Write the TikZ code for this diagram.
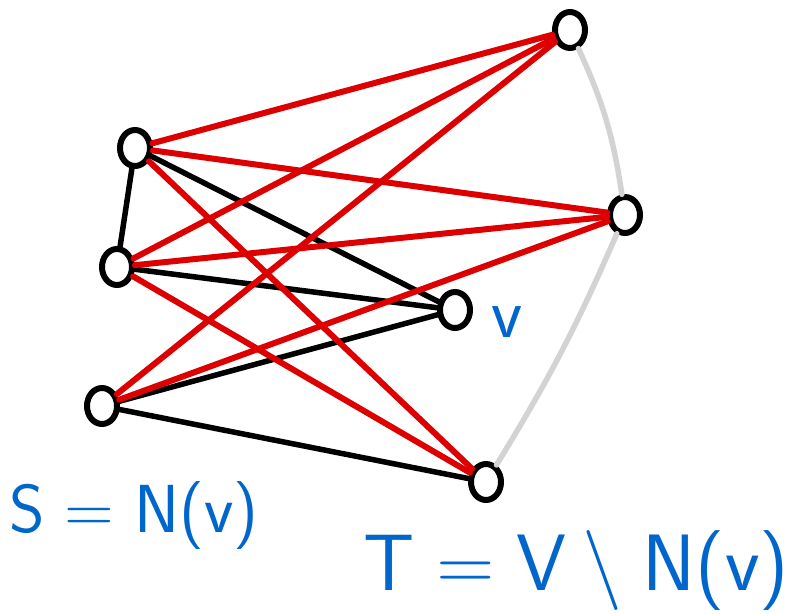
\documentclass[tikz,border=0pt]{standalone}
\usepackage{fontspec}
\usepackage{tikz}
\usetikzlibrary{shapes.geometric}
\definecolor{penred}{HTML}{DD0000}
\definecolor{penblue}{HTML}{0066CC}
\definecolor{pengray}{HTML}{D3D3D3}
\tikzset{
  vtx/.style={ellipse,draw=black,line width=6pt,minimum width=30pt,minimum height=36pt,inner sep=0pt},
  redge/.style={penred,line width=6pt,line cap=round},
  bedge/.style={black,line width=5.5pt,line cap=round},
  gedge/.style={pengray,line width=5.5pt,line cap=round},
  lbl/.style={text=penblue,inner sep=0pt}
}
\begin{document}
\begin{tikzpicture}[x=1pt,y=1pt]
\useasboundingbox (0,0) rectangle (808,-613);
\node[vtx] (L1) at (135,-148) {};
\node[vtx] (L2) at (117,-267) {};
\node[vtx] (L3) at (102,-406) {};
\node[vtx] (v) at (455,-310) {};
\node[vtx] (R1) at (570,-30) {};
\node[vtx] (R2) at (625,-215) {};
\node[vtx] (R3) at (486,-482) {};
% black edges
\draw[bedge] (L1) -- (L2);
\draw[bedge] (L1) -- (v);
\draw[bedge] (L2) -- (v);
\draw[bedge] (L3) -- (v);
\draw[bedge] (L3) -- (R3);
% gray edges
\draw[gedge] (R1) to[bend left=8] (R2);
\draw[gedge] (R2) to[bend left=4] (R3);
% red edges
\draw[redge] (L1) -- (R1);
\draw[redge] (L1) -- (R2);
\draw[redge] (L1) -- (R3);
\draw[redge] (L2) -- (R1);
\draw[redge] (L2) -- (R2);
\draw[redge] (L2) -- (R3);
\draw[redge] (L3) -- (R1);
\draw[redge] (L3) -- (R2);
% labels
\node[lbl,font=\sffamily\fontsize{72}{72}\selectfont] (vl) at (507,-322) {v};
\node[lbl,font=\sffamily\fontsize{68}{68}\selectfont] (S) at (134,-516) {S\hspace{20pt}=\hspace{20pt}N(v)};
\node[lbl,font=\sffamily\fontsize{80}{80}\selectfont] (T) at (576,-570) {T\hspace{22pt}=\hspace{22pt}V\hspace{16pt}\textbackslash\hspace{20pt}N(v)};
\end{tikzpicture}
\end{document}
